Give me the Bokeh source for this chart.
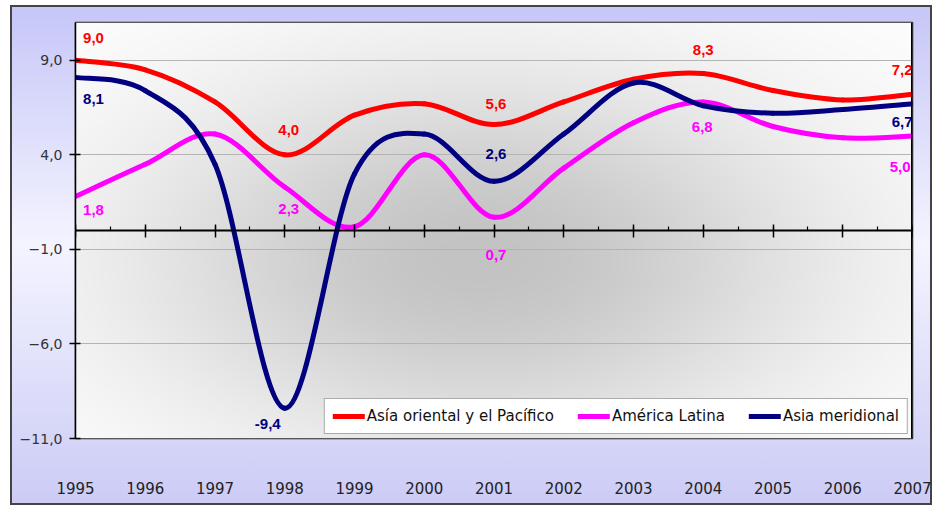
import numpy as np
from bokeh.plotting import figure
from bokeh.models import (FixedTicker, SingleIntervalTicker, LinearAxis, CustomJSTickFormatter,
                          Span, ColumnDataSource, Legend, LegendItem, Range1d)
from bokeh.core.properties import value
from bokeh.embed import file_html
from bokeh.resources import INLINE

# ---------------- data ----------------
years = [1995, 1996, 1997, 1998, 1999, 2000, 2001, 2002, 2003, 2004, 2005, 2006, 2007]
east_asia = [9.0, 8.5, 6.8, 4.0, 6.1, 6.7, 5.6, 6.8, 8.0, 8.3, 7.4, 6.9, 7.2]
latin_america = [1.8, 3.5, 5.1, 2.3, 0.2, 4.0, 0.7, 3.3, 5.7, 6.8, 5.5, 4.9, 5.0]
south_asia = [8.1, 7.4, 3.5, -9.4, 3.0, 5.1, 2.6, 5.1, 7.8, 6.6, 6.2, 6.4, 6.7]
series_names = ["Asía oriental y el Pacífico", "América Latina", "Asia meridional"]
y_ticks = [-11, -6, -1, 4, 9]
# labelled points: (series index, year)
labelled = [(0, 1995), (2, 1995), (1, 1995),
            (0, 1998), (1, 1998), (2, 1998),
            (0, 2001), (2, 2001), (1, 2001),
            (0, 2004), (1, 2004),
            (0, 2007), (2, 2007), (1, 2007)]

# ---------------- styles ----------------
colors = ["#ff0000", "#ff00ff", "#000080"]
# screen offsets (dx right, dy up) and alignment for each labelled point
label_dx = [18, 18, 18, 4, 4, -17, 2, 2, 2, 0, -1, 0, 0, -2]
label_dy = [22, -22, -14, 25, -22, -16, 21, 27, -38, 24, -25, 24, -18, -31]
label_align = ["center"] * 11 + ["right", "right", "right"]

all_series = [east_asia, latin_america, south_asia]


def bezier_segments(xs, ys):
    px = [xs[0]] + list(xs) + [xs[-1]]
    py = [ys[0]] + list(ys) + [ys[-1]]
    d = dict(x0=[], y0=[], x1=[], y1=[], cx0=[], cy0=[], cx1=[], cy1=[])
    for i in range(len(xs) - 1):
        d["x0"].append(px[i + 1]); d["y0"].append(py[i + 1])
        d["x1"].append(px[i + 2]); d["y1"].append(py[i + 2])
        d["cx0"].append(px[i + 1] + (px[i + 2] - px[i]) / 6.0)
        d["cy0"].append(py[i + 1] + (py[i + 2] - py[i]) / 6.0)
        d["cx1"].append(px[i + 2] - (px[i + 3] - px[i + 1]) / 6.0)
        d["cy1"].append(py[i + 2] - (py[i + 3] - py[i + 1]) / 6.0)
    return d


p = figure(width=922, height=500,
           x_range=Range1d(1995, 2007), y_range=Range1d(-11, 11),
           output_backend="svg", toolbar_location=None,
           min_border_left=65, min_border_right=20, min_border_top=17, min_border_bottom=67,
           background_fill_color="white", border_fill_color=None,
           outline_line_color="#222222", outline_line_width=1.5)
p.styles = {"background": "linear-gradient(180deg, #c6c6f8 0%, #f4f4ff 48%, #cbcbf6 100%)",
            "box-shadow": "inset 0 0 0 2px #444444",
            "margin": "5px 0px 0px 10px"}

# radial grey shading of the plotting area
nx, ny = 320, 180
gx = np.linspace(1995, 2007, nx)
gy = np.linspace(-11, 11, ny)
GX, GY = np.meshgrid(gx, gy)
shade = 255 - 60 * np.exp(-((GX - 2000.8) / 5.0) ** 2 - ((GY + 1.5) / 10.0) ** 2)
rgba = np.zeros((ny, nx, 4), dtype=np.uint8)
rgba[..., 0] = shade
rgba[..., 1] = shade
rgba[..., 2] = shade
rgba[..., 3] = 255
img = rgba.view(dtype=np.uint32).reshape((ny, nx))
p.image_rgba(image=[img], x=1995, y=-11, dw=12, dh=22, level="image")

# grid
p.xgrid.visible = False
p.ygrid.ticker = FixedTicker(ticks=y_ticks)
p.ygrid.grid_line_color = "#b4b4b4"
p.ygrid.grid_line_width = 1

# y axis
yax = p.yaxis[0]
yax.ticker = FixedTicker(ticks=y_ticks)
yax.formatter = CustomJSTickFormatter(code="return tick.toFixed(1).replace('.', ',').replace('-', '\u2212');")
yax.axis_line_color = "black"
yax.axis_line_width = 1.5
yax.major_tick_in = 5
yax.major_tick_out = 6
yax.major_tick_line_width = 1.5
yax.minor_tick_line_color = None
yax.major_label_text_font = "DejaVu Sans"
yax.major_label_text_font_size = "14px"
yax.major_label_text_color = "#333333"
yax.major_label_standoff = 7

# year labels at the bottom
xax = p.xaxis[0]
xax.ticker = FixedTicker(ticks=years)
xax.axis_line_color = None
xax.major_tick_line_color = None
xax.minor_tick_line_color = None
xax.major_tick_in = 0
xax.major_tick_out = 0
xax.major_label_standoff = 43
xax.major_label_text_font = "DejaVu Sans"
xax.major_label_text_font_size = "15px"
xax.major_label_text_color = "#222222"

# axis at zero with year ticks (no labels)
zero_axis = LinearAxis(fixed_location=0,
                       ticker=SingleIntervalTicker(interval=1, num_minor_ticks=2),
                       formatter=CustomJSTickFormatter(code="return '';"),
                       axis_line_color="black", axis_line_width=2,
                       major_tick_in=6, major_tick_out=7, major_tick_line_width=1.5,
                       minor_tick_in=4, minor_tick_out=0, minor_tick_line_width=1.2,
                       major_label_text_font_size="1px", major_label_standoff=0)
p.add_layout(zero_axis, "below")

# thick right edge
p.add_layout(Span(location=2007, dimension="height", line_color="black", line_width=3))

# curves
items = []
for name, ys, col in zip(series_names, all_series, colors):
    src = ColumnDataSource(bezier_segments(years, ys))
    r = p.bezier(x0="x0", y0="y0", x1="x1", y1="y1", cx0="cx0", cy0="cy0", cx1="cx1", cy1="cy1",
                 source=src, line_color=col, line_width=5, line_cap="round")
    items.append(LegendItem(label=name, renderers=[r]))

# data labels
lx, ly, lt, lc, ox, oy, al = [], [], [], [], [], [], []
for k, (si, yr) in enumerate(labelled):
    v = all_series[si][years.index(yr)]
    lx.append(yr)
    ly.append(v)
    lt.append(f"{v:.1f}".replace(".", ","))
    lc.append(colors[si])
    ox.append(label_dx[k])
    oy.append(-label_dy[k])
    al.append(label_align[k])
lsrc = ColumnDataSource(dict(x=lx, y=ly, t=lt, c=lc, ox=ox, oy=oy, al=al))
p.text(x="x", y="y", text="t", source=lsrc, text_color="c", x_offset="ox", y_offset="oy",
       text_align="al", text_baseline="middle", text_font=value("Liberation Sans"),
       text_font_size="15px", text_font_style="bold")

legend = Legend(items=items, orientation="horizontal", location="bottom_right",
                label_text_font="DejaVu Sans", label_text_font_size="15px",
                label_text_color="#111111", glyph_width=32, glyph_height=10,
                label_standoff=2, spacing=24, padding=8, margin=4,
                background_fill_color="white", background_fill_alpha=1,
                border_line_color="#555555", border_line_width=1)
p.add_layout(legend)

open("out.html", "w").write(file_html(p, INLINE))
